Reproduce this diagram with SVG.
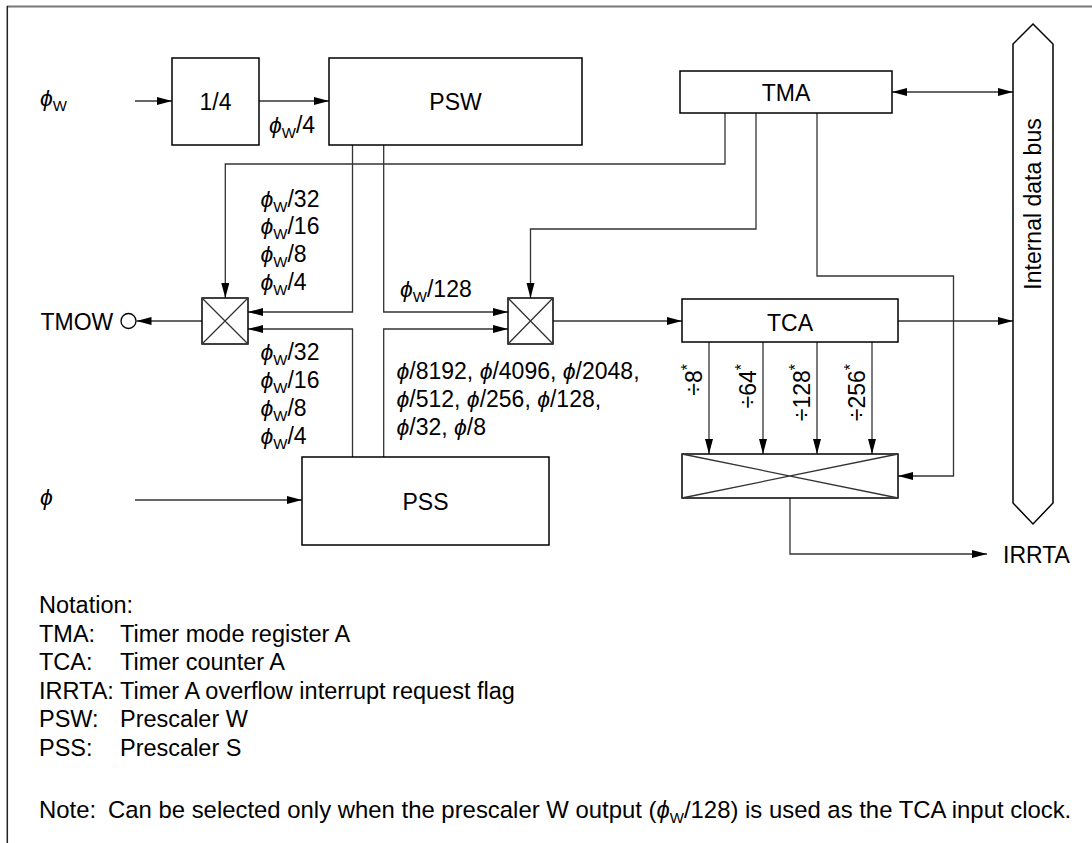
<svg xmlns="http://www.w3.org/2000/svg" width="1092" height="843" viewBox="0 0 1092 843">
<style>
text{font-family:"Liberation Sans",Arial,sans-serif;font-size:23px;fill:#000}
.box{fill:#fff;stroke:#000;stroke-width:1.5}
.ln{fill:none;stroke:#333;stroke-width:1.3}
.ph{font-style:italic;font-family:"Liberation Sans","DejaVu Sans",sans-serif}
.sub{font-size:15px}
.sup{font-size:16px}
.mid{text-anchor:middle}
#notation text{font-size:23.5px}
#notation text.note{font-size:23.9px}
#notation text.note .sub{font-size:15px}
</style>
<defs>
<marker id="ah" markerUnits="userSpaceOnUse" markerWidth="16" markerHeight="10" refX="15" refY="4" orient="auto-start-reverse" viewBox="0 0 16 10">
<path d="M0,0 L15,4 L0,8 z" fill="#000"/>
</marker>
</defs>
<g id="frame">
<line x1="7" y1="6.5" x2="1092" y2="6.5" stroke="#777" stroke-width="2"/>
<line x1="7.3" y1="6" x2="7.3" y2="843" stroke="#222" stroke-width="1.5"/>
</g>
<g id="connectors">
<path class="ln" d="M135,101 H172" marker-end="url(#ah)"/>
<path class="ln" d="M259,101 H329" marker-end="url(#ah)"/>
<path class="ln" d="M135,500 H302" marker-end="url(#ah)"/>
<path class="ln" d="M352.5,145 V312 H248" marker-end="url(#ah)"/>
<path class="ln" d="M383.7,145 V312 H508" marker-end="url(#ah)"/>
<path class="ln" d="M352.5,457 V329 H248" marker-end="url(#ah)"/>
<path class="ln" d="M383.7,457 V329 H508" marker-end="url(#ah)"/>
<path class="ln" d="M725,113 V164 H225.3 V298" marker-end="url(#ah)"/>
<path class="ln" d="M756,113 V229 H530.5 V298" marker-end="url(#ah)"/>
<path class="ln" d="M817,113 V276 H953.5 V476 H898" marker-end="url(#ah)"/>
<path class="ln" d="M892,92 H1013" marker-start="url(#ah)" marker-end="url(#ah)"/>
<path class="ln" d="M202,321 H136.5" marker-end="url(#ah)"/>
<path class="ln" d="M553,321 H682" marker-end="url(#ah)"/>
<path class="ln" d="M898,321 H1013" marker-end="url(#ah)"/>
<path class="ln" d="M709,342 V454" marker-end="url(#ah)"/>
<path class="ln" d="M763,342 V454" marker-end="url(#ah)"/>
<path class="ln" d="M817,342 V454" marker-end="url(#ah)"/>
<path class="ln" d="M872,342 V454" marker-end="url(#ah)"/>
<path class="ln" d="M790,498 V554 H987" marker-end="url(#ah)"/>
</g>
<g id="div4">
<rect class="box" x="172" y="58" width="87" height="87"/>
<text class="mid" x="215.5" y="110">1/4</text>
</g>
<g id="psw">
<rect class="box" x="329" y="58" width="253" height="87"/>
<text class="mid" x="455.5" y="110">PSW</text>
</g>
<g id="pss">
<rect class="box" x="302" y="457" width="247" height="88"/>
<text class="mid" x="425.5" y="510">PSS</text>
</g>
<g id="tma">
<rect class="box" x="680" y="71" width="212" height="42"/>
<text class="mid" x="786" y="101">TMA</text>
</g>
<g id="tca">
<rect class="box" x="682" y="299" width="216" height="43"/>
<text class="mid" x="790" y="331">TCA</text>
</g>
<g id="sel_left">
<rect class="box" x="202" y="298" width="46" height="46"/>
<path class="ln" d="M202,298 L248,344 M248,298 L202,344" stroke="#000" stroke-width="1"/>
</g>
<g id="sel_mid">
<rect class="box" x="508" y="298" width="45" height="46"/>
<path class="ln" d="M508,298 L553,344 M553,298 L508,344" stroke="#000" stroke-width="1"/>
</g>
<g id="sel_bottom">
<rect class="box" x="682" y="454" width="216" height="44"/>
<path class="ln" d="M682,454 L898,498 M898,454 L682,498" stroke="#000" stroke-width="1"/>
</g>
<g id="bus">
<polygon class="box" points="1033,24 1053,44 1053,503 1033,524 1013,503 1013,44" stroke-width="1.2"/>
<text class="mid" transform="translate(1041,204) rotate(-90)">Internal data bus</text>
</g>
<g id="tmow">
<circle cx="128.5" cy="321" r="7.5" fill="#fff" stroke="#000" stroke-width="1.3"/>
<text x="40.5" y="330">TMOW</text>
</g>
<g id="labels">
<text x="40" y="106"><tspan class="ph">ϕ</tspan><tspan class="sub" dy="5">W</tspan></text>
<text x="40" y="505" class="ph">ϕ</text>
<text x="269" y="133"><tspan class="ph">ϕ</tspan><tspan class="sub" dy="5">W</tspan><tspan dy="-5">/4</tspan></text>
<text x="260.5" y="207"><tspan class="ph">ϕ</tspan><tspan class="sub" dy="5">W</tspan><tspan dy="-5">/32</tspan></text>
<text x="260.5" y="234"><tspan class="ph">ϕ</tspan><tspan class="sub" dy="5">W</tspan><tspan dy="-5">/16</tspan></text>
<text x="260.5" y="262"><tspan class="ph">ϕ</tspan><tspan class="sub" dy="5">W</tspan><tspan dy="-5">/8</tspan></text>
<text x="260.5" y="290"><tspan class="ph">ϕ</tspan><tspan class="sub" dy="5">W</tspan><tspan dy="-5">/4</tspan></text>
<text x="260.5" y="360"><tspan class="ph">ϕ</tspan><tspan class="sub" dy="5">W</tspan><tspan dy="-5">/32</tspan></text>
<text x="260.5" y="388"><tspan class="ph">ϕ</tspan><tspan class="sub" dy="5">W</tspan><tspan dy="-5">/16</tspan></text>
<text x="260.5" y="416"><tspan class="ph">ϕ</tspan><tspan class="sub" dy="5">W</tspan><tspan dy="-5">/8</tspan></text>
<text x="260.5" y="444"><tspan class="ph">ϕ</tspan><tspan class="sub" dy="5">W</tspan><tspan dy="-5">/4</tspan></text>
<text x="400" y="297"><tspan class="ph">ϕ</tspan><tspan class="sub" dy="5">W</tspan><tspan dy="-5">/128</tspan></text>
<text x="396.5" y="379"><tspan class="ph">ϕ</tspan>/8192, <tspan class="ph">ϕ</tspan>/4096, <tspan class="ph">ϕ</tspan>/2048,</text>
<text x="396.5" y="407"><tspan class="ph">ϕ</tspan>/512, <tspan class="ph">ϕ</tspan>/256, <tspan class="ph">ϕ</tspan>/128,</text>
<text x="396.5" y="435"><tspan class="ph">ϕ</tspan>/32, <tspan class="ph">ϕ</tspan>/8</text>
<text transform="translate(702,364) rotate(-90)" text-anchor="end">÷8<tspan class="sup" dy="-9">*</tspan></text>
<text transform="translate(756,364) rotate(-90)" text-anchor="end">÷64<tspan class="sup" dy="-9">*</tspan></text>
<text transform="translate(810,364) rotate(-90)" text-anchor="end">÷128<tspan class="sup" dy="-9">*</tspan></text>
<text transform="translate(865,364) rotate(-90)" text-anchor="end">÷256<tspan class="sup" dy="-9">*</tspan></text>
<text x="1003" y="563">IRRTA</text>
</g>
<g id="notation">
<text x="39" y="613">Notation:</text>
<text x="39" y="641.5">TMA:</text><text x="120" y="641.5">Timer mode register A</text>
<text x="39" y="670">TCA:</text><text x="120" y="670">Timer counter A</text>
<text x="39" y="698.5">IRRTA:</text><text x="120" y="698.5">Timer A overflow interrupt request flag</text>
<text x="39" y="727">PSW:</text><text x="120" y="727">Prescaler W</text>
<text x="39" y="755.5">PSS:</text><text x="120" y="755.5">Prescaler S</text>
<text class="note" x="39" y="818">Note:<tspan x="108">Can be selected only when the prescaler W output (</tspan><tspan class="ph">ϕ</tspan><tspan class="sub" dy="5">W</tspan><tspan dy="-5">/128) is used as the TCA input clock.</tspan></text>
</g>
</svg>
